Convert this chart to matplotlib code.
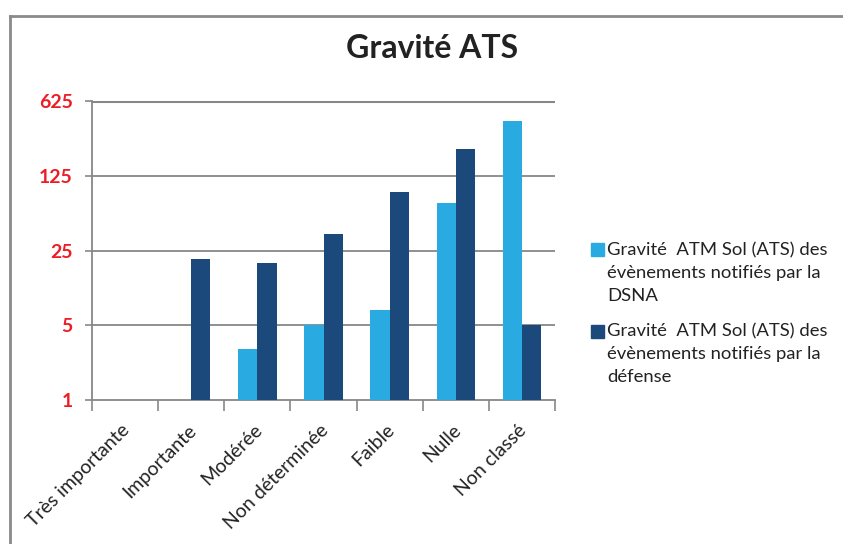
import numpy as np
import matplotlib
matplotlib.use("Agg")
import matplotlib.pyplot as plt
from matplotlib.ticker import FixedLocator, FixedFormatter, NullLocator
from matplotlib.lines import Line2D
from matplotlib.patches import Rectangle

plt.rcParams['font.family'] = ['Lato', 'DejaVu Sans']

categories = ["Très importante", "Importante", "Modérée", "Non déterminée",
              "Faible", "Nulle", "Non classé"]
dsna = [np.nan, np.nan, 3, 5, 7, 70, 400]
defense = [np.nan, 21, 19, 36, 87, 220, 5]
series_labels = [
    ["Gravité  ATM Sol (ATS) des", "évènements notifiés par la", "DSNA"],
    ["Gravité  ATM Sol (ATS) des", "évènements notifiés par la", "défense"],
]
y_ticks = [1, 5, 25, 125, 625]
y_tick_labels = ["1", "5", "25", "125", "625"]

light = "#29ABE2"
dark = "#1B497C"
grid_c = "#878787"
text_c = "#222222"

W, H = 843, 544
fig = plt.figure(figsize=(W / 100, H / 100), dpi=100)
ax = fig.add_axes([92 / W, 1 - 400.3 / H, (555 - 92) / W, 299.6 / H])

x = np.arange(len(categories))
w = 0.29
ax.bar(x - w / 2, dsna, width=w, color=light, zorder=3)
ax.bar(x + w / 2, defense, width=w, color=dark, zorder=3)

ax.set_yscale("log", base=5)
ax.set_ylim(1, 625)
ax.set_xlim(-0.5, len(categories) - 0.5)
ax.yaxis.set_major_locator(FixedLocator(y_ticks))
ax.yaxis.set_major_formatter(FixedFormatter(y_tick_labels))
ax.yaxis.set_minor_locator(NullLocator())
for t in y_ticks[1:]:
    ax.axhline(t, color=grid_c, lw=1.3 if t < 625 else 2.2, zorder=1)

ax.set_xticks(np.arange(-0.5, len(categories), 1.0))
ax.set_xticklabels([])
ax.tick_params(axis="x", length=8, width=1.2, color=grid_c, direction="out")
ax.tick_params(axis="y", length=5, width=1.2, color=grid_c, direction="out",
               labelsize=14, labelcolor="#EE1C25", pad=9)
for lbl in ax.get_yticklabels():
    lbl.set_fontweight("bold")

for s in ["top", "right"]:
    ax.spines[s].set_visible(False)
for s in ["left", "bottom"]:
    ax.spines[s].set_color(grid_c)
    ax.spines[s].set_linewidth(1.3)

# Category labels at 45 degrees, ending at each category centre
for xi, name in zip(x, categories):
    ax.text(xi - 0.06, -0.07, name, transform=ax.get_xaxis_transform(),
            rotation=45, ha="right", va="top", rotation_mode="anchor",
            fontsize=14, color=text_c)

fig.text(0.513, 1 - 49 / H, "Gravité ATS", ha="center", va="center",
         fontsize=23, fontweight="bold", color=text_c)

# Legend: square marker beside the first line of each entry
line_h = 23
for i, (lines, col) in enumerate(zip(series_labels, [light, dark])):
    y0 = 250 + i * 81
    fig.add_artist(Rectangle((591 / W, 1 - (y0 + 6.5) / H), 13 / W, 13 / H,
                             transform=fig.transFigure, color=col))
    for j, line in enumerate(lines):
        fig.text(607 / W, 1 - (y0 + j * line_h) / H, line, ha="left",
                 va="center", fontsize=13.3, color=text_c)

# Outer frame
fig.add_artist(Line2D([10 / W, 10 / W], [0, 1 - 16 / H],
                      transform=fig.transFigure, color="#8A8A8A", lw=2))
fig.add_artist(Line2D([10 / W, 1], [1 - 16 / H, 1 - 16 / H],
                      transform=fig.transFigure, color="#8A8A8A", lw=2))

fig.savefig("out.png", dpi=100)
